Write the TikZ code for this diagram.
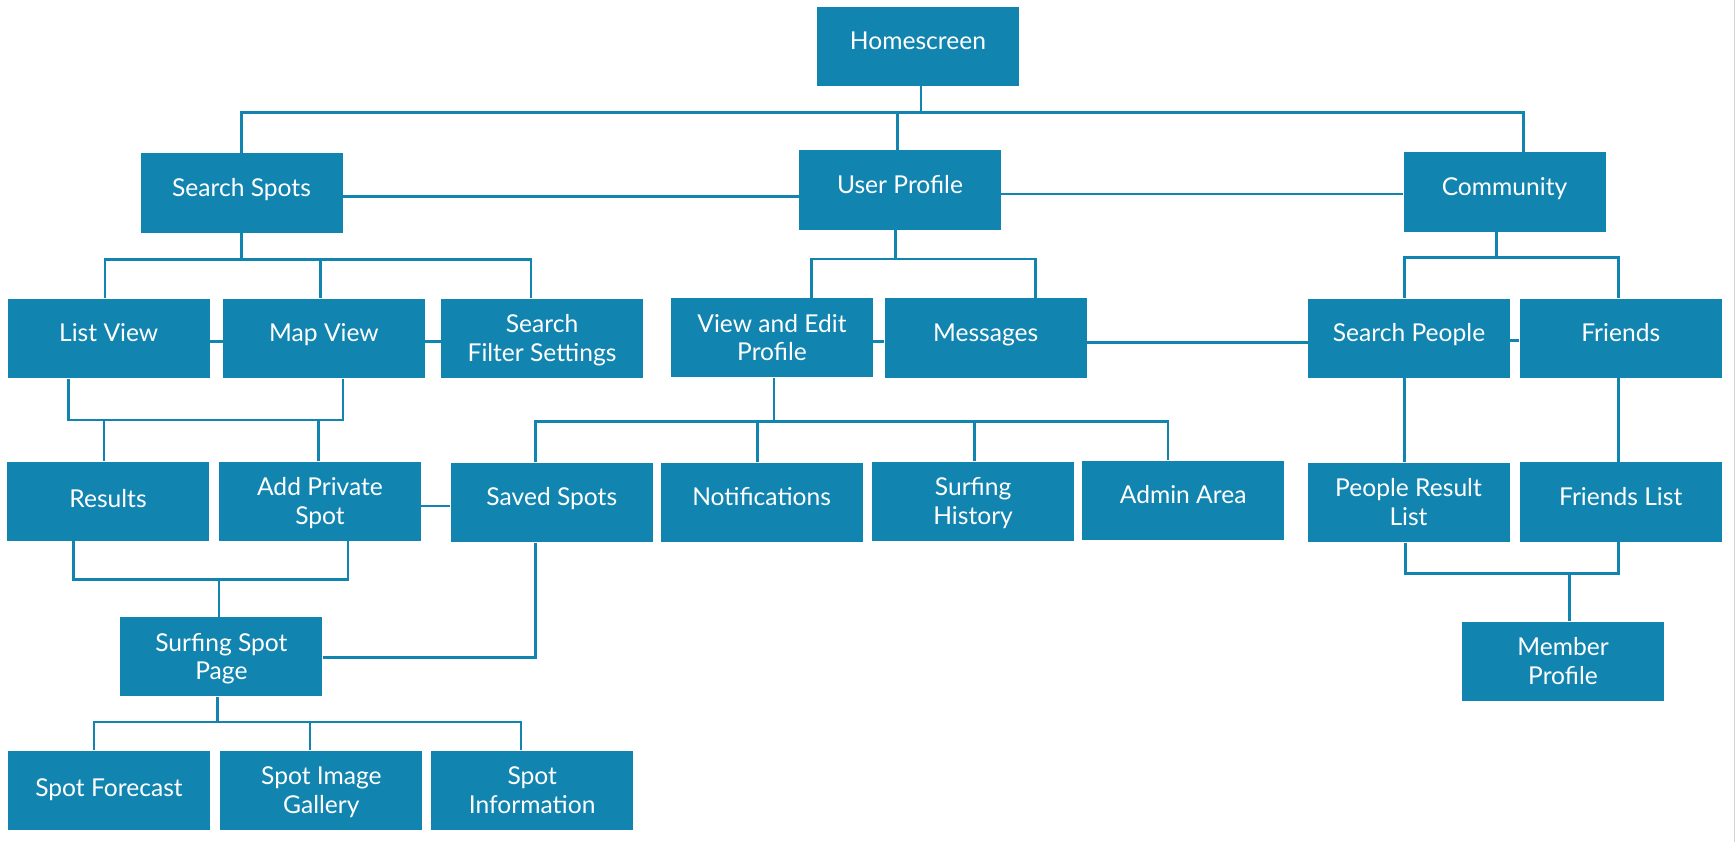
\documentclass[tikz,border=0pt]{standalone}
\usepackage{fontspec}
\setmainfont{Lato}
\definecolor{sb}{HTML}{1185B0}
\begin{document}
\begin{tikzpicture}[x=0.5pt,y=-0.5pt,
  box/.style={fill=sb, text=white, minimum width=101pt, minimum height=39.7pt, inner sep=0pt, align=center, font=\fontsize{12.3}{14.4}\selectfont, text height=8pt, text depth=4.6pt},
  twol/.style={text height=23.2pt, text depth=0pt},
  lowt/.style={text height=8pt, text depth=1.4pt},
  ln/.style={draw=sb, line width=1.4pt}]
\useasboundingbox (0,0) rectangle (1736,842);
\draw[gray!35, line width=0.6pt] (1734.5,0) -- (1734.5,842);
% nodes
\node[box] (home) at (918,46.3) {Homescreen};
\node[box] (ss) at (241.5,193) {Search Spots};
\node[box] (up) at (900,190) {User Profile};
\node[box] (com) at (1504.5,192) {Community};
\node[box] (lv) at (108.7,338.5) {List View};
\node[box] (mv) at (324,338.5) {Map View};
\node[box,twol] (sfs) at (542,338.5) {Search\\Filter Settings};
\node[box,twol] (vep) at (772,337.7) {View and Edit\\Profile};
\node[box] (msg) at (985.7,338) {Messages};
\node[box] (sp) at (1409,338.3) {Search People};
\node[box] (fr) at (1620.7,338.3) {Friends};
\node[box,lowt] (res) at (108,501.3) {Results};
\node[box,twol] (aps) at (320,501.3) {Add Private\\Spot};
\node[box] (sav) at (551.8,502.5) {Saved Spots};
\node[box] (not) at (761.6,502.5) {Notifications};
\node[box,twol] (his) at (973.1,501.5) {Surfing\\History};
\node[box] (adm) at (1183.2,500.5) {Admin Area};
\node[box,twol] (prl) at (1408.5,502.5) {People Result\\List};
\node[box] (fl) at (1620.7,501.8) {Friends List};
\node[box,twol] (ssp) at (221.4,656.6) {Surfing Spot\\Page};
\node[box,twol] (mem) at (1563,661.5) {Member\\Profile};
\node[box,lowt] (sf) at (109,790.3) {Spot Forecast};
\node[box,twol] (sig) at (321.4,790.3) {Spot Image\\Gallery};
\node[box,twol] (si) at (532.2,790.3) {Spot\\Information};
% top level
\coordinate (h) at (921,112.3);
\coordinate (t1) at (241.5,112.3);
\coordinate (t2) at (897.8,112.3);
\coordinate (t3) at (1523.7,112.3);
\draw[ln] (home.south -| h) -- (h);
\draw[ln] (ss.north -| t1) -- (t1) -- (t3) -- (com.north -| t3);
\draw[ln] (t2) -- (up.north -| t2);
\coordinate (r1) at (0,196.7);
\coordinate (r2) at (0,194);
\draw[ln] (ss.east |- r1) -- (up.west |- r1);
\draw[ln] (up.east |- r2) -- (com.west |- r2);
% search spots children
\coordinate (a0) at (241.5,259.3);
\coordinate (a1) at (105,259.3);
\coordinate (a2) at (320.5,259.3);
\coordinate (a3) at (531,259.3);
\draw[ln] (ss.south -| a0) -- (a0);
\draw[ln] (lv.north -| a1) -- (a1) -- (a3) -- (sfs.north -| a3);
\draw[ln] (a2) -- (mv.north -| a2);
% user profile children
\coordinate (u0) at (895.6,259);
\coordinate (u1) at (811.5,259);
\coordinate (u2) at (1035.4,259);
\draw[ln] (up.south -| u0) -- (u0);
\draw[ln] (vep.north -| u1) -- (u1) -- (u2) -- (msg.north -| u2);
% community children
\coordinate (c0) at (1496.2,257.7);
\coordinate (c1) at (1404.2,257.7);
\coordinate (c2) at (1618.6,257.7);
\draw[ln] (com.south -| c0) -- (c0);
\draw[ln] (sp.north -| c1) -- (c1) -- (c2) -- (fr.north -| c2);
% row 2 links
\coordinate (r3) at (0,341.7);
\coordinate (r4) at (0,342.3);
\coordinate (r5) at (0,340.7);
\draw[ln] (lv.east |- r3) -- (mv.west |- r3);
\draw[ln] (mv.east |- r3) -- (sfs.west |- r3);
\draw[ln] (vep.east |- r3) -- (msg.west |- r3);
\draw[ln] (msg.east |- r4) -- (sp.west |- r4);
\draw[ln] (sp.east |- r5) -- (fr.west |- r5);
% list/map -> results/add private
\coordinate (l1) at (68.3,420);
\coordinate (l2) at (343,420);
\coordinate (l3) at (104,420);
\coordinate (l4) at (318.8,420);
\draw[ln] (lv.south -| l1) -- (l1) -- (l2) -- (mv.south -| l2);
\draw[ln] (l3) -- (res.north -| l3);
\draw[ln] (l4) -- (aps.north -| l4);
% view and edit profile children
\coordinate (v0) at (773.9,421.7);
\coordinate (v1) at (535.7,421.7);
\coordinate (v2) at (757.2,421.7);
\coordinate (v3) at (974.6,421.7);
\coordinate (v4) at (1168,421.7);
\draw[ln] (vep.south -| v0) -- (v0);
\draw[ln] (sav.north -| v1) -- (v1) -- (v4) -- (adm.north -| v4);
\draw[ln] (v2) -- (not.north -| v2);
\draw[ln] (v3) -- (his.north -| v3);
% people / friends lists
\draw[ln] (sp.south -| c1) -- (prl.north -| c1);
\draw[ln] (fr.south -| c2) -- (fl.north -| c2);
% row 3 link
\coordinate (r6) at (0,506);
\draw[ln] (aps.east |- r6) -- (sav.west |- r6);
% results/add private -> surfing spot page
\coordinate (s1) at (73.7,579.3);
\coordinate (s2) at (348,579.3);
\coordinate (s3) at (219,579.3);
\draw[ln] (res.south -| s1) -- (s1) -- (s2) -- (aps.south -| s2);
\draw[ln] (s3) -- (ssp.north -| s3);
% saved spots -> surfing spot page
\coordinate (k1) at (535.7,657.7);
\draw[ln] (sav.south -| k1) -- (k1) -- (ssp.east |- k1);
% surfing spot page children
\coordinate (p0) at (217.4,722);
\coordinate (p1) at (94,722);
\coordinate (p2) at (310,722);
\coordinate (p3) at (521,722);
\draw[ln] (ssp.south -| p0) -- (p0);
\draw[ln] (sf.north -| p1) -- (p1) -- (p3) -- (si.north -| p3);
\draw[ln] (p2) -- (sig.north -| p2);
% member profile
\coordinate (m1) at (1405.6,573.7);
\coordinate (m2) at (1618.6,573.7);
\coordinate (m3) at (1569.3,573.7);
\draw[ln] (prl.south -| m1) -- (m1) -- (m2) -- (fl.south -| m2);
\draw[ln] (m3) -- (mem.north -| m3);
\end{tikzpicture}
\end{document}
